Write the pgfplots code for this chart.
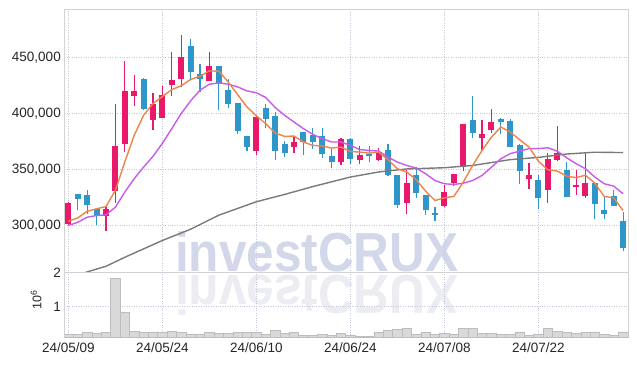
\documentclass[border=0pt]{standalone}
\usepackage{pgfplots}
\pgfplotsset{compat=1.18}
\usepackage{pgfplotstable}
\usepackage{fontspec}
\setmainfont{Liberation Sans}
\definecolor{upc}{HTML}{E8196B}
\definecolor{dnc}{HTML}{2E96C8}
\definecolor{ma5}{HTML}{EE844A}
\definecolor{ma10}{HTML}{C95BEA}
\definecolor{ma60}{HTML}{7A7A7A}
\definecolor{gridc}{HTML}{C2C6DA}
\definecolor{axisc}{HTML}{D2D2D2}
\definecolor{textc}{HTML}{262626}
\definecolor{wm}{HTML}{D2D7EA}
\definecolor{wmr}{HTML}{ECEDF2}
\definecolor{volf}{HTML}{D9D9D9}
\definecolor{vole}{HTML}{BDBDBD}

\pgfplotstableread{
x o h l c
0 301800 321000 301000 320800
4 308900 316600 295800 314600
5 331500 408900 320200 370800
6 372900 447000 365500 419900
7 415500 434800 407200 419900
9 394700 418400 385700 408900
10 396100 425000 396000 417000
11 425500 455000 416100 429700
12 430400 469900 423800 450000
15 428600 455000 428600 442200
20 366600 397500 363400 397000
24 370200 379700 365200 374400
29 356500 378200 354500 377100
31 358600 370800 355400 362800
33 358600 369300 358000 365500
36 320500 349400 310700 338000
40 317900 336000 317200 330400
41 338000 346000 335100 345800
42 352300 390500 348500 390500
44 378200 394000 367200 381500
45 385400 404500 382700 392200
49 341600 355900 333000 344900
51 331800 364800 320800 359200
52 358600 389300 357400 365200
54 334500 350000 327100 336000
55 326400 364800 325000 338400
}\up

\pgfplotstableread{
x o h l c
1 328000 328000 313700 323800
2 327100 332200 310700 318400
3 314600 316100 301200 308900
8 430600 431500 403000 403800
13 460100 466100 429700 437200
14 435100 443800 419300 430900
16 442200 442500 403600 427300
17 420800 430400 405400 408600
18 409200 409500 382200 384500
19 379700 380000 366400 370200
21 405400 408300 387500 395200
22 397600 401400 358300 366300
23 372600 376000 361300 364800
25 383300 383300 362800 374700
26 380600 387500 368800 374700
27 379700 387500 360700 363700
28 361900 369300 351800 356500
30 377100 378500 355400 359800
32 364300 371100 356800 362200
34 367200 373200 344000 345500
35 344900 345500 316100 318800
37 344900 352300 325000 329100
38 327100 327500 310100 313900
39 311900 317200 304100 309800
43 394000 416100 378000 382700
46 394900 396400 382200 392500
47 393100 395400 370000 370200
48 371700 373200 337500 348800
50 340500 344900 315200 324600
53 350000 356800 325500 325500
56 338400 338700 306300 319600
57 313700 326400 306300 310700
58 326200 332100 317900 317900
59 304700 312100 277300 280000
}\down

\pgfplotstableread{
x y
0 304100
1 307100
2 313000
3 315200
4 317200
5 331500
6 356800
7 380600
8 398500
9 409000
10 415200
11 421400
12 424800
13 430400
14 433300
15 438000
16 437800
17 428200
18 417000
19 405900
20 398000
21 391000
22 382700
23 379700
24 380000
25 374700
26 371700
27 371100
28 369300
29 370200
30 366300
31 365700
32 364800
33 365700
34 358900
35 350900
36 347900
37 341100
38 330900
39 322600
40 325000
41 326200
42 338900
43 353800
44 367200
45 379100
46 388000
47 383600
48 376800
49 370200
50 357500
51 350000
52 348800
53 344300
54 342900
55 345200
56 338000
57 326200
58 325000
59 313700
}\mafive

\pgfplotstableread{
x y
0 300300
1 303200
2 307700
3 309200
4 309800
5 316600
6 330000
7 342000
8 352300
9 361900
10 373500
11 386600
12 400000
13 411300
14 420800
15 426200
16 427300
17 426200
18 423800
19 420200
20 418600
21 414300
22 405400
23 398500
24 392500
25 386600
26 381500
27 377700
28 374700
29 374700
30 371700
31 367900
32 367200
33 366600
34 361300
35 356800
36 353800
37 351400
38 346400
39 340400
40 337500
41 336900
42 338000
43 340400
44 344900
45 352300
46 359800
47 364300
48 366600
49 368800
50 368800
51 369600
52 366600
53 360700
54 355400
55 350900
56 343400
57 337500
58 335400
59 328600
}\maten

\pgfplotstableread{
x y
0 252000
2 259000
4 264000
6 272000
8 279500
10 287000
13 297000
16 309500
20 321500
23 328000
26 335000
30 343500
33 348000
36 350700
40 351800
43 353800
47 359000
50 361000
53 364000
56 365600
59 365300
}\masixty

\pgfplotstableread{
x v
0 201000
1 176000
2 235000
3 209000
4 235000
5 1835000
6 841000
7 285000
8 235000
9 260000
10 260000
11 285000
12 235000
13 201000
14 176000
15 235000
16 209000
17 209000
18 235000
19 235000
20 235000
21 184000
22 302000
23 218000
24 235000
25 151000
26 151000
27 176000
28 151000
29 209000
30 151000
31 117000
32 117000
33 235000
34 310000
35 336000
36 361000
37 176000
38 235000
39 184000
40 209000
41 176000
42 361000
43 361000
44 209000
45 209000
46 176000
47 176000
48 260000
49 151000
50 201000
51 361000
52 285000
53 235000
54 209000
55 235000
56 260000
57 176000
58 151000
59 260000
}\vol

\pgfplotsset{
  base/.style={
    scale only axis, anchor=south west,
    width=564.4pt,
    xmin=-0.43, xmax=59.6,
    xtick={0,10,20,30,40,50},
    grid=major,
    major grid style={dotted, draw=gridc, line width=0.8pt},
    axis line style={draw=axisc, line width=0.8pt},
    tick style={draw=none},
    tick label style={font=\fontsize{13.5}{15}\selectfont, text=textc},
    /pgf/number format/assume math mode=true,
    scaled y ticks=false,
  }
}

\begin{document}
\begin{tikzpicture}
\useasboundingbox (0,0) rectangle (637pt,366pt);
\fill[white] (0,0) rectangle (637pt,366pt);
\node[anchor=base west, inner sep=0pt, text=wm, font=\fontsize{55}{55}\selectfont\bfseries, xscale=0.9] at (175pt,94pt) {investCRUX};
\node[anchor=base west, inner sep=0pt, text=wmr, font=\fontsize{55}{55}\selectfont\bfseries, xscale=0.9, yscale=-1] at (175pt,90pt) {investCRUX};

\begin{axis}[base,
  at={(64.3pt,93.3pt)}, height=263.4pt,
  ymin=258300, ymax=492900,
  ytick={300000,350000,400000,450000},
  xticklabels={},
  yticklabel style={/pgf/number format/.cd, fixed, 1000 sep={,}},
]
\addplot[forget plot, draw=none, mark=none, error bars/.cd, y dir=both, y explicit, error mark=none,
  error bar style={draw=upc, line width=1.1pt}]
  table[x=x, y=l, y error plus expr=\thisrow{h}-\thisrow{l}, y error minus expr=0] {\up};
\addplot[forget plot, draw=none, mark=none, error bars/.cd, y dir=both, y explicit, error mark=none,
  error bar style={draw=dnc, line width=1.1pt}]
  table[x=x, y=l, y error plus expr=\thisrow{h}-\thisrow{l}, y error minus expr=0] {\down};
\addplot[forget plot, draw=none, mark=none, error bars/.cd, y dir=both, y explicit, error mark=none,
  error bar style={draw=upc, line width=6pt}]
  table[x=x, y=o, y error plus expr=\thisrow{c}-\thisrow{o}, y error minus expr=0] {\up};
\addplot[forget plot, draw=none, mark=none, error bars/.cd, y dir=both, y explicit, error mark=none,
  error bar style={draw=dnc, line width=6pt}]
  table[x=x, y=c, y error plus expr=\thisrow{o}-\thisrow{c}, y error minus expr=0] {\down};
\addplot[ma60, line width=1.4pt] table[x=x, y=y] {\masixty};
\addplot[ma10, line width=1.4pt] table[x=x, y=y] {\maten};
\addplot[ma5, line width=1.4pt] table[x=x, y=y] {\mafive};
\end{axis}

\begin{axis}[base,
  at={(64.3pt,28.7pt)}, height=64.6pt,
  ymin=100000, ymax=2000000,
  ytick={1000000,2000000}, yticklabels={1,2},
  xticklabels={24/05/09,24/05/24,24/06/10,24/06/24,24/07/08,24/07/22},
  xticklabel style={yshift=-1.5pt},
  ylabel={10\textsuperscript{6}},
  every axis y label/.style={at={(axis description cs:-0.05,0.58)}, rotate=90, anchor=center, font=\fontsize{12.5}{13}\selectfont, text=textc},
]
\addplot[ybar, bar width=1, bar shift=0pt, fill=volf, draw=vole, line width=0.5pt] table[x=x, y=v] {\vol};
\end{axis}
\end{tikzpicture}
\end{document}
